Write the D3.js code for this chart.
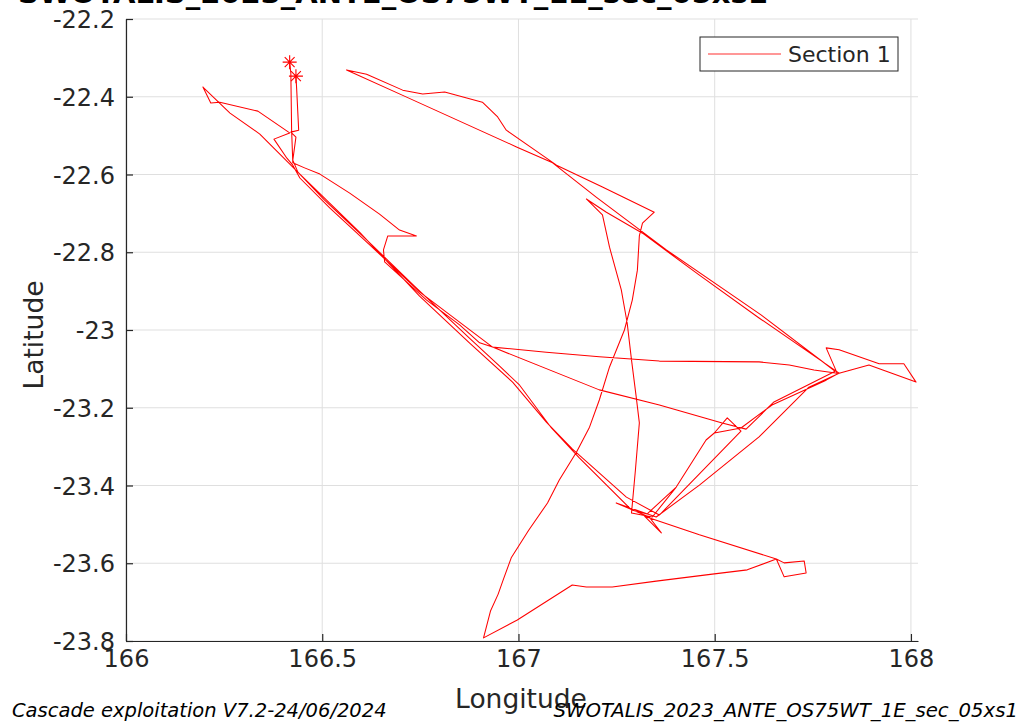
<!DOCTYPE html>
<html>
<head>
<meta charset="utf-8">
<script src="https://cdn.jsdelivr.net/npm/d3@7"></script>
<style>
  body { margin: 0; background: #fff; }
  svg { display: block; font-family: "DejaVu Sans", sans-serif; }
</style>
</head>
<body>
<svg width="1030" height="724"></svg>
<script>
let width = 1030, height = 724;

// track of section 1 (longitude / latitude)
let lon = [166.417,166.420,166.422,166.425,166.455,166.494,166.570,166.646,166.697,166.740,
  166.667,166.656,166.659,166.766,166.850,166.901,166.934,167.071,167.206,167.359,
  167.613,167.690,167.753,167.812,167.784,167.817,167.919,167.982,168.013,167.893,
  167.817,167.613,167.461,167.316,167.224,167.173,167.214,167.232,167.262,167.277,
  167.288,167.300,167.308,167.298,167.288,167.341,167.402,167.478,167.499,167.567,
  167.646,167.784,167.817,167.740,167.613,167.461,167.351,167.249,167.333,167.364,
  167.321,167.461,167.657,167.677,167.728,167.733,167.677,167.657,167.583,167.494,
  167.351,167.239,167.173,167.137,166.997,166.911,166.929,166.948,166.962,166.982,
  167.026,167.074,167.104,167.148,167.181,167.206,167.232,167.270,167.290,167.303,
  167.308,167.316,167.346,167.214,167.097,166.969,166.947,166.908,166.812,166.756,
  166.705,166.613,166.562,166.715,166.995,167.087,167.198,167.377,167.618,167.807,
  167.651,167.580,167.519,167.359,167.206,166.934,166.748,166.621,166.519,166.443,
  166.425,166.410,166.377,166.417,166.336,166.239,166.216,166.196,166.265,166.341,
  166.443,166.595,166.748,166.875,166.985,167.071,167.137,167.275,167.359,167.567,
  167.532,167.499,167.478,167.402,167.328,167.288,167.155,167.084,167.003,166.952,
  166.875,166.735,166.608,166.506,166.438,166.425,166.433,166.420,166.440,166.435,166.433];

let lat = [-22.311,-22.339,-22.486,-22.570,-22.583,-22.599,-22.648,-22.702,-22.743,-22.758,
  -22.758,-22.794,-22.825,-22.923,-22.987,-23.033,-23.044,-23.057,-23.069,-23.080,
  -23.082,-23.090,-23.103,-23.111,-23.046,-23.051,-23.087,-23.087,-23.134,-23.090,
  -23.111,-22.969,-22.859,-22.751,-22.697,-22.663,-22.704,-22.787,-22.897,-22.982,
  -23.077,-23.172,-23.239,-23.360,-23.471,-23.481,-23.404,-23.283,-23.265,-23.252,
  -23.193,-23.129,-23.111,-23.147,-23.275,-23.399,-23.481,-23.445,-23.481,-23.522,
  -23.479,-23.527,-23.589,-23.599,-23.594,-23.625,-23.635,-23.589,-23.617,-23.628,
  -23.646,-23.661,-23.661,-23.656,-23.746,-23.792,-23.722,-23.680,-23.640,-23.585,
  -23.515,-23.445,-23.386,-23.314,-23.250,-23.180,-23.095,-23.000,-22.923,-22.846,
  -22.758,-22.725,-22.697,-22.632,-22.576,-22.486,-22.452,-22.414,-22.388,-22.393,
  -22.383,-22.342,-22.331,-22.401,-22.529,-22.570,-22.658,-22.794,-22.961,-23.106,
  -23.185,-23.255,-23.239,-23.193,-23.154,-23.044,-22.902,-22.781,-22.686,-22.609,
  -22.576,-22.558,-22.509,-22.493,-22.437,-22.414,-22.416,-22.375,-22.442,-22.496,
  -22.599,-22.748,-22.913,-23.033,-23.134,-23.237,-23.306,-23.430,-23.476,-23.260,
  -23.226,-23.265,-23.283,-23.404,-23.473,-23.463,-23.329,-23.252,-23.142,-23.093,
  -23.021,-22.887,-22.763,-22.666,-22.594,-22.563,-22.504,-22.491,-22.486,-22.383,-22.347];

let xTicks = [166, 166.5, 167, 167.5, 168];
let xTickLabels = ["166", "166.5", "167", "167.5", "168"];
let yTicks = [-23.8, -23.6, -23.4, -23.2, -23, -22.8, -22.6, -22.4, -22.2];
let yTickLabels = ["-23.8", "-23.6", "-23.4", "-23.2", "-23", "-22.8", "-22.6", "-22.4", "-22.2"];

let titleText = "SWOTALIS_2023_ANTE_OS75WT_1E_sec_05xs1";
let legendText = "Section 1";
let footLeft = "Cascade exploitation V7.2-24/06/2024";
let footRight = "SWOTALIS_2023_ANTE_OS75WT_1E_sec_05xs1";

let track = lon.map((d, i) => [d, lat[i]]);

let svg = d3.select("svg")
    .attr("viewBox", "0 0 " + width + " " + height);

let x = d3.scaleLinear().domain([166, 168.018]).range([126, 918]);
let y = d3.scaleLinear().domain([-23.8, -22.2]).range([641, 19]);

let axisColor = "#262626";

// grid
svg.append("g")
    .selectAll("line")
    .data(xTicks)
    .enter()
    .append("line")
    .attr("x1", d => x(d)).attr("x2", d => x(d))
    .attr("y1", y.range()[0]).attr("y2", y.range()[1])
    .attr("stroke", "#dfdfdf");

svg.append("g")
    .selectAll("line")
    .data(yTicks)
    .enter()
    .append("line")
    .attr("x1", x.range()[0]).attr("x2", x.range()[1])
    .attr("y1", d => y(d)).attr("y2", d => y(d))
    .attr("stroke", "#dfdfdf");

// axes, ticks pointing inward
let xAxis = svg.append("g")
    .attr("transform", "translate(0," + y.range()[0] + ")")
    .call(d3.axisBottom(x).tickValues(xTicks).tickSize(-7).tickSizeOuter(0)
        .tickFormat((d, i) => xTickLabels[i]));

let yAxis = svg.append("g")
    .attr("transform", "translate(" + x.range()[0] + ",0)")
    .call(d3.axisLeft(y).tickValues(yTicks).tickSize(-7).tickSizeOuter(0)
        .tickFormat((d, i) => yTickLabels[i]));

[xAxis, yAxis].forEach(a => {
  a.select(".domain").attr("stroke", axisColor).attr("stroke-width", 1.2);
  a.selectAll(".tick line").attr("stroke", axisColor).attr("stroke-width", 1.2);
  a.selectAll(".tick text")
    .attr("fill", axisColor)
    .style("font-family", "DejaVu Sans")
    .style("font-size", "24px");
});
xAxis.selectAll(".tick text").attr("y", 9).attr("dy", "0.71em");
yAxis.selectAll(".tick text").attr("x", -11).attr("dy", "0.36em");

// the track
svg.append("path")
    .datum(track)
    .attr("fill", "none")
    .attr("stroke", "#ff0000")
    .attr("stroke-width", 1.05)
    .attr("stroke-linejoin", "round")
    .attr("d", d3.line().x(d => x(d[0])).y(d => y(d[1])));

// '*' markers at first and last points
let starSymbol = {
  draw(context, size) {
    let r = Math.sqrt(size) / 2, q = r * Math.SQRT1_2;
    context.moveTo(-r, 0); context.lineTo(r, 0);
    context.moveTo(0, -r); context.lineTo(0, r);
    context.moveTo(-q, -q); context.lineTo(q, q);
    context.moveTo(-q, q); context.lineTo(q, -q);
  }
};

svg.append("g")
    .selectAll("path")
    .data([track[0], track[track.length - 1]])
    .enter()
    .append("path")
    .attr("transform", d => "translate(" + x(d[0]) + "," + y(d[1]) + ")")
    .attr("d", d3.symbol().type(starSymbol).size(196))
    .attr("fill", "none")
    .attr("stroke", "#ff0000")
    .attr("stroke-width", 1.1);

// legend
let legend = svg.append("g").attr("transform", "translate(700,37)");
legend.append("rect")
    .attr("width", 198).attr("height", 34)
    .attr("fill", "#fff").attr("stroke", axisColor).attr("stroke-width", 1);
legend.append("line")
    .attr("x1", 8).attr("x2", 81).attr("y1", 17).attr("y2", 17)
    .attr("stroke", "#ff3030").attr("stroke-width", 1.2);
legend.append("text")
    .attr("x", 88).attr("y", 25)
    .attr("fill", axisColor)
    .style("font-size", "22px")
    .text(legendText);

// title (cut by the top edge as in the original)
svg.append("text")
    .attr("x", 18).attr("y", 3)
    .style("font-size", "29px")
    .style("font-weight", "bold")
    .attr("fill", "#000")
    .text(titleText);

// axis labels
svg.append("text")
    .attr("x", 521).attr("y", 708)
    .attr("text-anchor", "middle")
    .attr("fill", axisColor)
    .style("font-size", "26.5px")
    .text("Longitude");

svg.append("text")
    .attr("transform", "translate(43,335) rotate(-90)")
    .attr("text-anchor", "middle")
    .attr("fill", axisColor)
    .style("font-size", "26.5px")
    .text("Latitude");

// footnotes
svg.append("text")
    .attr("x", 12).attr("y", 717)
    .style("font-size", "19.5px").style("font-style", "italic")
    .attr("fill", "#000")
    .text(footLeft);

svg.append("text")
    .attr("x", 1018).attr("y", 717)
    .attr("text-anchor", "end")
    .style("font-size", "19.7px").style("font-style", "italic")
    .attr("fill", "#000")
    .text(footRight);
</script>
</body>
</html>
